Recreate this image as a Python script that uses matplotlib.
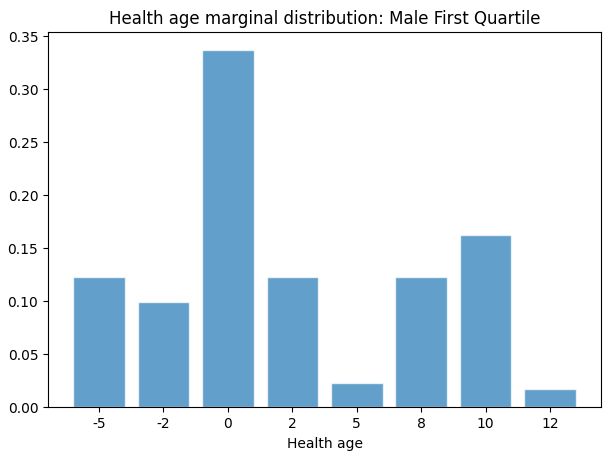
import matplotlib
matplotlib.use('Agg')
import matplotlib.pyplot as plt

ages = ['-5', '-2', '0', '2', '5', '8', '10', '12']
probs = [0.1225, 0.0995, 0.3367, 0.1225, 0.0225, 0.1225, 0.1621, 0.0168]

fig = plt.figure(figsize=(6.04, 4.55), dpi=100)
ax = fig.add_axes([0.0795, 0.105, 0.9156, 0.824])
ax.bar(ages, probs, color='C0', alpha=0.7, edgecolor='white')
ax.set_xlabel('Health age')
ax.set_title('Health age marginal distribution: Male First Quartile')

fig.savefig('out.png', dpi=100)
